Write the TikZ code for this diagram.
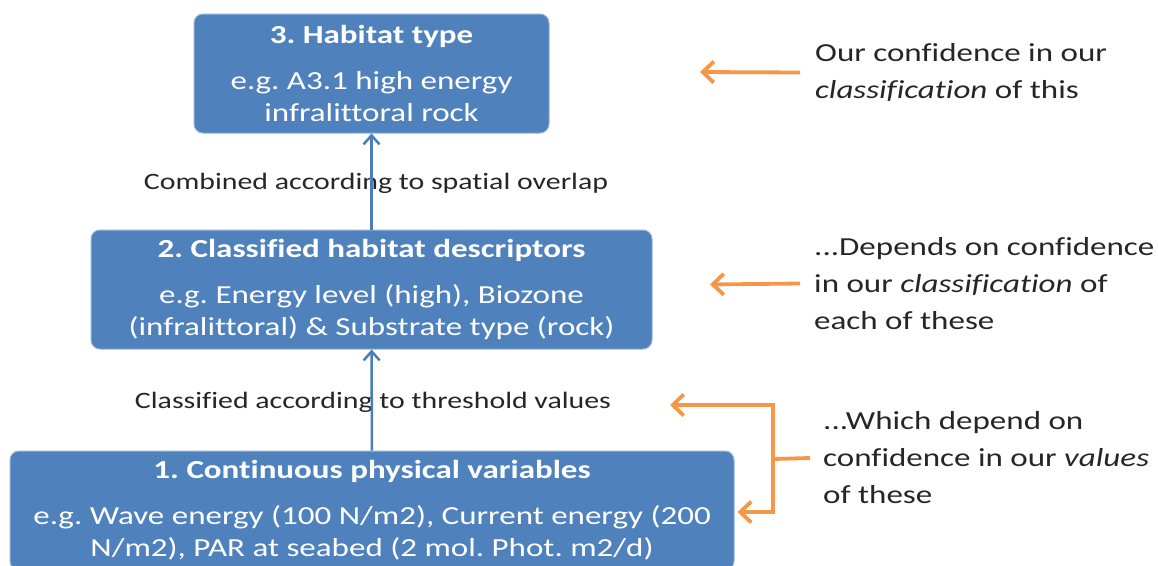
\documentclass[tikz,border=0pt]{standalone}
\usepackage{fontspec}
\setmainfont{Carlito}[FakeStretch=1.27, Ligatures=NoCommon]
\usetikzlibrary{arrows.meta,calc}
\definecolor{boxblue}{HTML}{4F81BD}
\definecolor{arrblue}{HTML}{4A7EBB}
\definecolor{orng}{HTML}{F79646}
\frenchspacing
\begin{document}
\begin{tikzpicture}[x=1pt,y=-1pt,
  box/.style={rectangle, rounded corners=9pt, fill=boxblue, draw=boxblue!60!white, line width=1pt,
    text=white, align=center, inner sep=0pt, font=\fontsize{26}{32}\selectfont},
  lbl/.style={inner sep=0pt, font=\fontsize{23.5}{28}\selectfont, text=black!85},
  side/.style={inner sep=0pt, anchor=west, align=left, font=\fontsize{26}{37}\selectfont, text=black!85},
  barrow/.style={draw=arrblue, line width=2.5pt, -{Straight Barb[length=9pt,width=16pt]}},
  oarrow/.style={draw=orng, line width=3.8pt, -{Straight Barb[length=11pt,width=21pt]}},
  oline/.style={draw=orng, line width=3.8pt}]
\useasboundingbox (0,0) rectangle (1158,565);
\clip (0,0) rectangle (1158,565);
% boxes
\node[box, minimum width=355pt, minimum height=119pt] (b3) at (371.5,73.5)
  {{\bfseries 3. Habitat type}\\[14pt] e.g. A3.1 high energy\\ infralittoral rock};
\node[box, minimum width=561pt, minimum height=119pt] (b2) at (371.5,289.5)
  {{\bfseries 2. Classified habitat descriptors}\\[14pt] e.g. Energy level (high), Biozone\\ (infralittoral) \& Substrate type (rock)};
\node[box, minimum width=724pt, minimum height=119pt] (b1) at (372,510.5)
  {{\bfseries 1. Continuous physical variables}\\[14pt] e.g. Wave energy (100 N/m2), Current energy (200\\ N/m2), PAR at seabed (2 mol. Phot. m2/d)};
% labels
\node[lbl] (l1) at (376,183) {Combined according to spatial overlap};
\node[lbl] (l2) at (373,402) {Classified according to threshold values};
% blue arrows
\draw[barrow] (b2) -- (b3);
\draw[barrow] (b1) -- (b2);
% side texts
\node[side] (t3) at (815,72.5) {Our confidence in our\\ \textit{classification} of this};
\node[side] (t2) at (814,283.5) {...Depends on confidence\\ in our \textit{classification} of\\ each of these};
\node[side] (t1) at (823,458) {...Which depend on\\ confidence in our \textit{values}\\ of these};
% orange arrows
\coordinate (a3) at (700,72);
\coordinate (a2) at (710,284.5);
\draw[oarrow] ([xshift=-15pt]t3.west) -- (a3);
\draw[oarrow] ([xshift=-14pt]t2.west) -- (a2);
\coordinate (bj) at (773,459);
\coordinate (btop) at (773,405);
\coordinate (bbot) at (773,512);
\coordinate (tip1) at (670,405);
\draw[oline] ([xshift=-13pt]t1.west) -- (bj);
\draw[oarrow] (bj) -- (btop) -- (tip1);
\draw[oarrow] (bj) -- (bbot) -- ([xshift=3pt]b1.east |- bbot);
\end{tikzpicture}
\end{document}
